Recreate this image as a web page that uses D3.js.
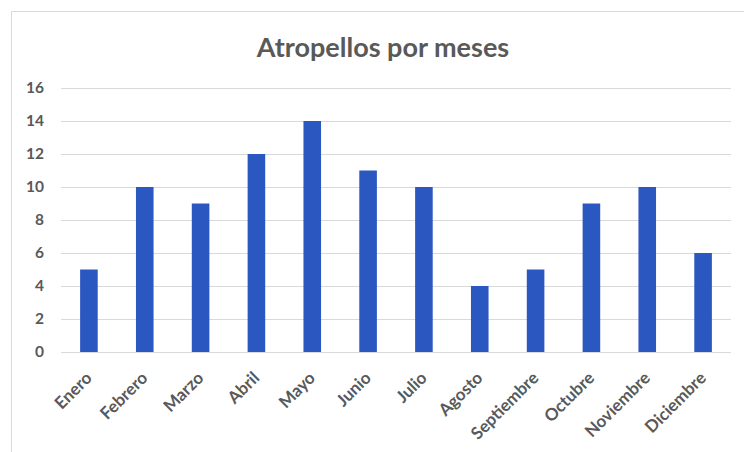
<!DOCTYPE html>
<html><head><meta charset="utf-8">
<script src="https://cdn.jsdelivr.net/npm/d3@7"></script>
<style>body{margin:0;background:#fff}svg{display:block}</style>
</head><body>
<script>
const categories = ["Enero","Febrero","Marzo","Abril","Mayo","Junio","Julio","Agosto","Septiembre","Octubre","Noviembre","Diciembre"];
const values = [5,10,9,12,14,11,10,4,5,9,10,6];
const yTicks = [0,2,4,6,8,10,12,14,16];
const title = "Atropellos por meses";

const W=744,H=452;
const svg=d3.select("body").append("svg").attr("width",W).attr("height",H);
const font="Lato, 'Open Sans', sans-serif";
// chart frame
svg.append("path").attr("d","M11.5,452 V11.5 H744").attr("fill","none").attr("stroke","#d9d9d9").attr("stroke-width",1);

const x=d3.scaleBand().domain(categories).range([61,731]).paddingInner(0.685).paddingOuter(0.3425);
const y=d3.scaleLinear().domain([0,16]).range([352,88]);

// gridlines
svg.append("g").selectAll("line").data(yTicks).join("line")
  .attr("x1",61).attr("x2",731).attr("y1",d=>Math.round(y(d))+0.5).attr("y2",d=>Math.round(y(d))+0.5)
  .attr("stroke","#d9d9d9").attr("stroke-width",1);

// bars
svg.append("g").selectAll("rect").data(values).join("rect")
  .attr("x",(d,i)=>x(categories[i])).attr("width",x.bandwidth())
  .attr("y",d=>y(d)).attr("height",d=>y(0)-y(d)).attr("fill","#2B57C1");

// y axis
const ya=svg.append("g").attr("transform","translate(61,0)").call(d3.axisLeft(y).tickValues(yTicks).tickSize(0).tickPadding(17));
ya.select(".domain").remove();
ya.selectAll("text").attr("font-family",font).attr("font-size",15.5).attr("font-weight","bold").attr("fill","#595959");

// x axis
const xa=svg.append("g").attr("transform","translate(0,352)").call(d3.axisBottom(x).tickSize(0));
xa.select(".domain").remove();
xa.selectAll("text").attr("font-family",font).attr("font-size",17).attr("font-weight","bold").attr("fill","#595959")
  .attr("text-anchor","end").attr("dy",0).attr("y",0)
  .attr("transform","translate(4,27) rotate(-45)");

// title
svg.append("text").attr("x",383).attr("y",57).attr("text-anchor","middle")
  .attr("font-family",font).attr("font-size",27).attr("font-weight","bold").attr("fill","#595959").text(title);
</script>
</body></html>
